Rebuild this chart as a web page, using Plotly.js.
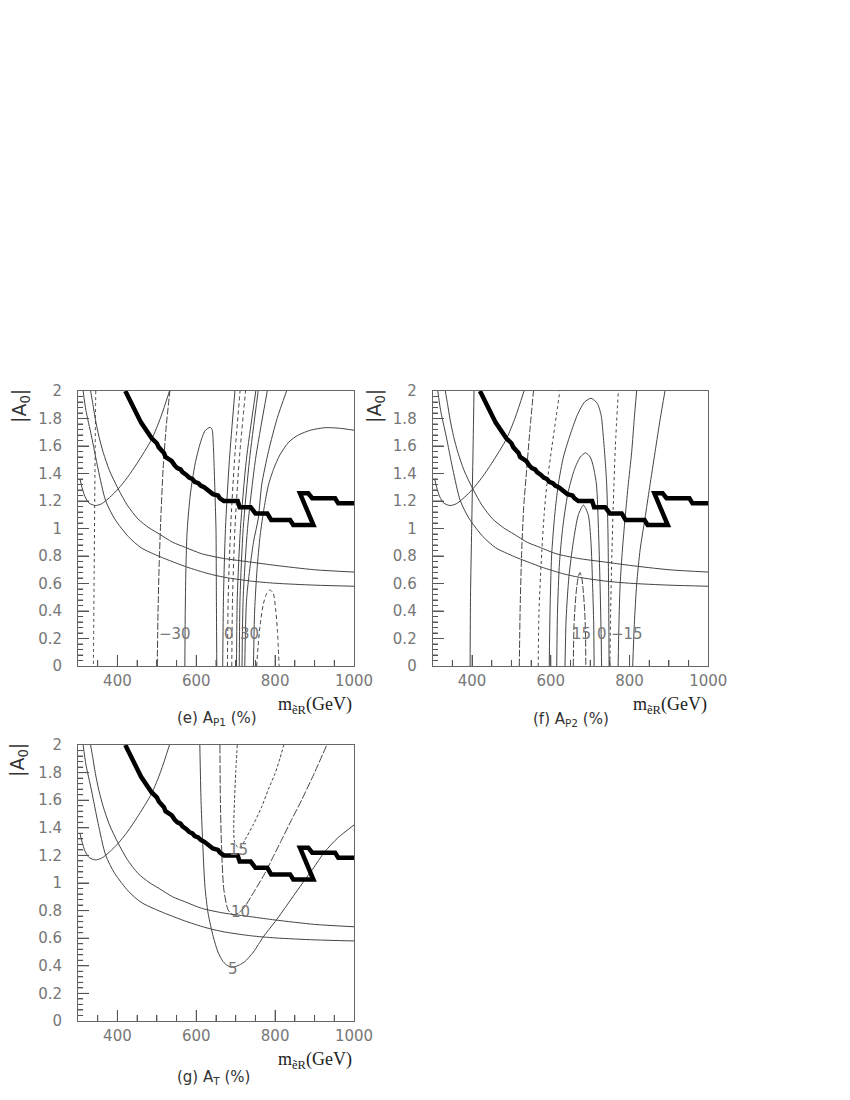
<!DOCTYPE html>
<html><head><meta charset="utf-8">
<script src="https://cdn.plot.ly/plotly-3.0.1.min.js"></script>
<style>body{margin:0;background:#fff}.p{position:absolute;left:0;top:0;width:850px;height:1100px}</style>
</head><body>
<div class="p" id="pe"></div><div class="p" id="pf"></div><div class="p" id="pg"></div>
<script>
// ---- axis ticks ----
const xMajorTicks = [400, 600, 800];
const xMinorTicks = [350, 450, 500, 550, 650, 700, 750, 850, 900, 950];
const yMajorTicks = [0.2, 0.4, 0.6, 0.8, 1.0, 1.2, 1.4, 1.6, 1.8];
const yMinorTicks = [0.04,0.08,0.12,0.16,0.24,0.28,0.32,0.36,0.44,0.48,0.52,0.56,0.64,0.68,0.72,0.76,0.84,0.88,0.92,0.96,
  1.04,1.08,1.12,1.16,1.24,1.28,1.32,1.36,1.44,1.48,1.52,1.56,1.64,1.68,1.72,1.76,1.84,1.88,1.92,1.96];

// ---- common curves (same in all three panels) ----
const boundaryX = [420,440,460,487,495,500,505,512,518,522,530,538,545,552,560,565,575,582,590,596,605,612,620,628,636,642,655,660,670,705,710,738,750,780,790,838,846,897,863,884,894,952,960,1000];
const boundaryY = [2.0,1.88,1.77,1.656,1.63,1.62,1.59,1.57,1.55,1.52,1.50,1.49,1.46,1.44,1.43,1.41,1.39,1.37,1.36,1.34,1.33,1.31,1.30,1.28,1.27,1.25,1.24,1.22,1.20,1.20,1.155,1.155,1.11,1.11,1.062,1.062,1.025,1.025,1.256,1.256,1.22,1.22,1.183,1.183];
const parabX = [305,310,318,328,344,360,380,402,425,450,487,510,532];
const parabY = [1.36,1.30,1.23,1.185,1.167,1.18,1.225,1.288,1.37,1.475,1.65,1.81,2.0];
const hypOuterX = [332,338,344,353,364,380,402,425,452,480,506,540,573,613,668,740,800,900,1000];
const hypOuterY = [2.0,1.9,1.795,1.67,1.553,1.42,1.288,1.17,1.07,1.005,0.96,0.9,0.862,0.817,0.783,0.755,0.732,0.70,0.683];
const hypInnerX = [313,320,334,351,370,393,428,460,508,576,630,672,740,800,900,1000];
const hypInnerY = [2.0,1.86,1.674,1.432,1.203,1.07,0.94,0.86,0.795,0.72,0.672,0.645,0.617,0.602,0.588,0.58];

// ---- panel (e) A_P1 ----
const famY = [0,0.5,1.0,1.5,2.0];
const eVdashX = [345,343,341,339], eVdashY = [2.0,1.4,0.7,0];
const eM30X = [501,503,506,510,516,524,533], eM30Y = [0,0.4,0.75,1.07,1.44,1.75,2.0];
const eLoopX = [571,572,574,577,585,597,610,622,635,640,643,645,648,650,651,652];
const eLoopY = [0,0.4,0.75,0.99,1.25,1.47,1.62,1.71,1.736,1.72,1.62,1.474,1.2,0.99,0.5,0];
const eF1X = [667,669,674,684,698];
const eF2X = [679,681,687,697,711];
const eF3X = [690,692,698,709,725];
const eF4X = [702,704,712,727,751];
const eF5X = [709,711,719,735,757];
const eF6X = [716,719,730,750,780];
const eF7X = [723,728,745,757,766,783,805,829], eF7Y = [0,0.5,0.9,1.07,1.32,1.56,1.8,2.0];
const eArcX = [745,748,754,762,772,783,797,812,835,859,890,926,960,1000];
const eArcY = [0,0.4,0.7,0.95,1.15,1.316,1.44,1.535,1.63,1.68,1.715,1.733,1.73,1.715];
const eDUX = [753,757,762,770,779,787,795,801,806,810], eDUY = [0,0.15,0.3,0.45,0.53,0.553,0.53,0.42,0.25,0];
const eLabels = ['\u221230','0','30'], eLabelX = [546,684,736];

// ---- panel (f) A_P2 ----
const fV1X = [395,396,399,402,405];
const fD1X = [520,522,526,531,539,547,556], fD1Y = [0,0.4,0.83,1.15,1.44,1.72,2.0];
const fD2X = [568,570,577,583,590,603,614,623], fD2Y = [0,0.4,0.83,1.1,1.32,1.6,1.82,2.0];
const fBigX = [596,598,602,610,619,632,649,668,686,702,718,728,733,738,742,745,747,748];
const fBigY = [0,0.4,0.8,1.1,1.32,1.52,1.68,1.83,1.92,1.947,1.91,1.82,1.68,1.5,1.316,1.0,0.5,0];
const fMedX = [615,617,622,630,643,660,675,688,700,708,716,721,725,728,729];
const fMedY = [0,0.4,0.75,1.0,1.25,1.43,1.52,1.55,1.52,1.45,1.316,1.0,0.6,0.2,0];
const fInX = [636,639,646,657,670,683,695,702,706,709,710];
const fInY = [0,0.35,0.65,0.9,1.1,1.17,1.1,0.9,0.6,0.3,0];
const fSmX = [657,659,662,666,670,674,678,682,686,688,689];
const fSmY = [0,0.3,0.45,0.58,0.65,0.68,0.65,0.56,0.4,0.25,0];
const fAX = [750,752,755,759,764,771.5], fAY = [0,0.4,0.8,1.2,1.6,2.0];
const fRightY = [0,0.3,0.59,0.85,1.07,1.3,1.56,1.8,2.0];
const fBX = [771,773,776,782,788.5,796,805.5,812,818];
const fCX = [808,812,818,827,839,851,865,878,890];
const fLabels = ['15','0','\u221215'], fLabelX = [679,729,794];

// ---- panel (g) A_T ----
const g5X = [609,612,616,622,630,643,655,668,680,690,700,712,723,745,770,800,830,863,895,926,960,1000];
const g5Y = [2.0,1.6,1.31,0.973,0.78,0.611,0.5,0.43,0.40,0.39,0.395,0.41,0.43,0.5,0.61,0.72,0.84,0.973,1.1,1.227,1.33,1.42];
const g10X = [660,661,664,670,681,694,708,723,745,774,795,816,842,867,900,931];
const g10Y = [2.0,1.625,1.263,0.95,0.804,0.768,0.785,0.828,0.93,1.07,1.19,1.31,1.46,1.6,1.8,2.0];
const g15X = [704,700,697,695,697,705,715,723,744,766,783,800,812,822];
const g15Y = [2.0,1.8,1.6,1.4,1.3,1.26,1.265,1.31,1.42,1.553,1.68,1.795,1.9,2.0];
const gLabels = ['15','10','5'], gLabelX = [707,711,694], gLabelY = [1.24,0.79,0.375];

const THIN = '#444';
function ln(x, y, dash, color, width, straight) {
  return {x: x, y: y, type: 'scatter', mode: 'lines', hoverinfo: 'skip', showlegend: false,
    line: {color: color || THIN, width: width || 1, dash: dash || 'solid',
      shape: straight ? 'linear' : 'spline', smoothing: 0.7}};
}
function common() {
  return [ln(parabX, parabY), ln(hypOuterX, hypOuterY), ln(hypInnerX, hypInnerY)];
}
const thick = () => ln(boundaryX, boundaryY, 'solid', '#000', 4.5, true);

// tick marks as a line trace (inside the frame); lengths in axis units
function tickTrace() {
  const tx = [], ty = [];
  xMajorTicks.forEach(v => { tx.push(v, v, null); ty.push(0, 0.08, null); });
  xMinorTicks.forEach(v => { tx.push(v, v, null); ty.push(0, 0.044, null); });
  yMajorTicks.forEach(v => { tx.push(300, 328, null); ty.push(v, v, null); });
  yMinorTicks.forEach(v => { tx.push(300, 313, null); ty.push(v, v, null); });
  return {x: tx, y: ty, type: 'scatter', mode: 'lines', hoverinfo: 'skip', showlegend: false,
    connectgaps: false, line: {color: '#555', width: 1}};
}

const tracesE = [tickTrace()].concat(common(), [
  ln(eVdashX, eVdashY, '3px,3px'), ln(eM30X, eM30Y, '7px,2px'), ln(eLoopX, eLoopY),
  ln(eF1X, famY), ln(eF2X, famY, '4px,3px'), ln(eF3X, famY, '4px,3px'),
  ln(eF4X, famY), ln(eF5X, famY), ln(eF6X, famY), ln(eF7X, eF7Y),
  ln(eArcX, eArcY), ln(eDUX, eDUY, '4px,3px'), thick()]);
const tracesF = [tickTrace()].concat(common(), [
  ln(fV1X, famY), ln(fD1X, fD1Y, '7px,2px'), ln(fD2X, fD2Y, '3px,3px'),
  ln(fBigX, fBigY), ln(fMedX, fMedY), ln(fInX, fInY), ln(fSmX, fSmY, '7px,2px'),
  ln(fAX, fAY, '3px,3px'), ln(fBX, fRightY), ln(fCX, fRightY), thick()]);
const tracesG = [tickTrace()].concat(common(), [
  ln(g5X, g5Y), ln(g10X, g10Y, '8px,2px'), ln(g15X, g15Y, '3px,2px'), thick()]);

const W = 850, H = 1100;
const px = v => v / W, py = v => 1 - v / H;
const tickFont = {family: 'DejaVu Sans', size: 15, color: '#777'};
const TICKC = '#555';

function makePanel(div, left, right, bottom, top, traces, yTitlePos, xTitlePos, capPos, capText, labels) {
  const ann = [];
  ann.push({xref: 'paper', yref: 'paper', x: px(yTitlePos[0]), y: py(yTitlePos[1]), text: '|A<sub>0</sub>|', showarrow: false,
    textangle: -90, font: {family: 'DejaVu Sans', size: 19, color: '#333'}, xanchor: 'center', yanchor: 'middle'});
  ann.push({xref: 'paper', yref: 'paper', x: px(xTitlePos[0]), y: py(xTitlePos[1]), text: 'm<sub>ẽR</sub>(GeV)', showarrow: false,
    font: {family: 'Liberation Serif', size: 18, color: '#222'}, xanchor: 'right', yanchor: 'middle'});
  ann.push({xref: 'paper', yref: 'paper', x: px(capPos[0]), y: py(capPos[1]), text: capText, showarrow: false,
    font: {family: 'DejaVu Sans', size: 15, color: '#333'}, xanchor: 'center', yanchor: 'middle'});
  labels.forEach(l => ann.push({xref: 'x', yref: 'y', x: l[0], y: l[1], text: l[2], showarrow: false,
    font: {family: 'DejaVu Sans', size: 15, color: '#777'}, xanchor: 'center', yanchor: 'middle'}));
  const layout = {
    width: W, height: H, margin: {l: 0, r: 0, t: 0, b: 0},
    paper_bgcolor: 'rgba(0,0,0,0)', plot_bgcolor: 'rgba(0,0,0,0)', showlegend: false,
    xaxis: {domain: [px(left), px(right)], anchor: 'y', range: [300, 1000], tick0: 0, dtick: 200,
      ticks: 'inside', ticklen: 11, tickcolor: TICKC, tickwidth: 1,
      minor: {dtick: 50, ticks: 'inside', ticklen: 6, tickcolor: TICKC},
      showline: true, linecolor: '#666', mirror: true,
      showgrid: false, zeroline: false, tickfont: tickFont, ticklabelstandoff: 1},
    yaxis: {domain: [py(bottom), py(top)], anchor: 'x', range: [0, 2], tick0: 0, dtick: 0.2,
      ticks: 'inside', ticklen: 11, tickcolor: TICKC, tickwidth: 1,
      minor: {dtick: 0.04, ticks: 'inside', ticklen: 5, tickcolor: TICKC},
      showline: true, linecolor: '#666', mirror: true,
      showgrid: false, zeroline: false, tickfont: tickFont, ticklabelstandoff: 12},
    annotations: ann
  };
  return Plotly.newPlot(div, traces, layout, {staticPlot: true, displayModeBar: false});
}

makePanel('pe', 78, 354, 666, 391, tracesE, [20, 406], [354, 705], [217, 718], '(e) A<sub>P1</sub> (%)',
  eLabels.map((t, i) => [eLabelX[i], 0.233, t]));
makePanel('pf', 432.7, 708.3, 666, 391, tracesF, [375, 406], [709, 705], [571, 719], '(f) A<sub>P2</sub> (%)',
  fLabels.map((t, i) => [fLabelX[i], 0.233, t]));
makePanel('pg', 78, 354, 1021, 745, tracesG, [18, 760], [354, 1060], [213, 1077], '(g) A<sub>T</sub> (%)',
  gLabels.map((t, i) => [gLabelX[i], gLabelY[i], t]));
</script></body></html>
